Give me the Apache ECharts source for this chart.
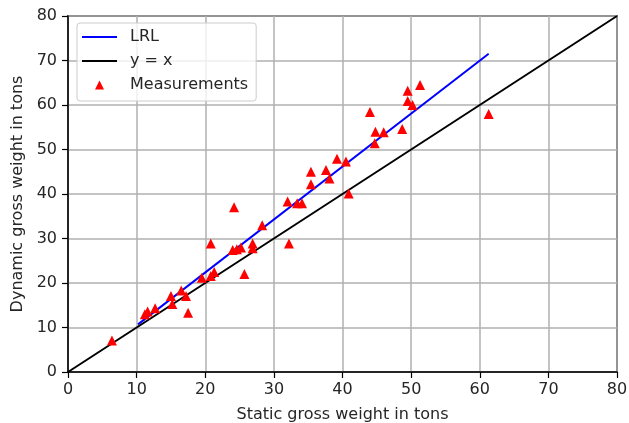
<!DOCTYPE html>
<html><head><meta charset="utf-8">
<script src="https://cdn.jsdelivr.net/npm/echarts@6/dist/echarts.min.js"></script>
<style>html,body{margin:0;padding:0;background:#fff}#c{width:629px;height:423px}</style>
</head><body><div id="c"></div>
<script>
const staticWeight = [6.4,11.2,11.6,12.7,15.0,15.2,16.5,17.2,17.5,19.5,20.8,21.3,20.8,24.2,24.0,24.6,25.2,25.7,26.9,26.9,28.3,32.2,32.0,33.4,34.1,35.4,35.4,37.6,38.1,39.2,40.5,40.9,44.0,44.7,44.8,46.0,48.7,49.5,49.5,50.2,51.3,61.3];
const dynamicWeight = [7.1,13.0,13.6,14.3,17.1,15.3,18.3,17.1,13.3,21.2,21.6,22.5,28.9,37.0,27.4,27.6,28.0,22.0,28.9,27.8,33.0,28.9,38.3,37.9,37.9,42.2,45.0,45.4,43.5,47.9,47.3,40.1,58.4,51.4,54.0,53.9,54.6,63.2,60.9,60.0,64.5,58.0];
const lrlX = [10.2, 61.3];
const lrlY = [10.7, 71.5];
const identX = [0, 80];
const identY = [0, 80];
const xTicks = [0,10,20,30,40,50,60,70,80];
const yTicks = [0,10,20,30,40,50,60,70,80];

const font = 'DejaVu Sans';
const lineIcon = 'path://M0,4 L35,4 L35,6 L0,6 Z M0,0 M43,10';
const triIcon = 'path://M17.5,0.5 L22,9.5 L13,9.5 Z M0,0 M43,10';
const chart = echarts.init(document.getElementById('c'));
const zip = (a,b) => a.map((v,i)=>[v,b[i]]);
const axisCommon = {
  axisLine:{show:true,lineStyle:{color:'#000',width:1.5}},
  axisTick:{show:true,inside:false,length:6,lineStyle:{color:'#000',width:1.2}},
  splitLine:{show:true,lineStyle:{color:'#b0b0b0',width:1.5}},
  nameTextStyle:{fontFamily:font,fontSize:16,color:'#262626'},
  nameLocation:'middle'
};
chart.setOption({
  animation:false,
  textStyle:{fontFamily:font},
  grid:{left:68,right:12,top:16,bottom:51,containLabel:false,outerBoundsMode:'none',show:true,borderColor:'#000',borderWidth:1.5,backgroundColor:'transparent'},
  legend:{
    left:77,top:23,orient:'vertical',itemWidth:43,itemHeight:10,itemGap:8,
    backgroundColor:'rgba(255,255,255,0.8)',borderColor:'#cccccc',borderWidth:1,borderRadius:3,
    padding:[6,8,8,5],
    textStyle:{fontFamily:font,fontSize:16,color:'#262626',lineHeight:16},
    data:[{name:'LRL',icon:lineIcon},{name:'y = x',icon:lineIcon},{name:'Measurements',icon:triIcon}]
  },
  xAxis:Object.assign({type:'value',min:xTicks[0],max:xTicks[xTicks.length-1],interval:10,
    name:'Static gross weight in tons',nameGap:35,
    axisLabel:{fontFamily:font,fontSize:16,color:'#262626',margin:10}}, axisCommon),
  yAxis:Object.assign({type:'value',min:yTicks[0],max:yTicks[yTicks.length-1],interval:10,
    name:'Dynamic gross weight in tons',nameGap:40,
    axisLabel:{fontFamily:font,fontSize:16,color:'#262626',margin:11}}, axisCommon),
  series:[
    {name:'LRL',type:'line',data:zip(lrlX,lrlY),symbol:'none',showSymbol:false,lineStyle:{color:'#0000ff',width:2},itemStyle:{color:'#0000ff'},z:3},
    {name:'y = x',type:'line',data:zip(identX,identY),symbol:'none',showSymbol:false,lineStyle:{color:'#000',width:2},itemStyle:{color:'#000'},z:4},
    {name:'Measurements',type:'scatter',data:zip(staticWeight,dynamicWeight),symbol:'triangle',symbolSize:[10,10],itemStyle:{color:'#ff0000',opacity:1},z:5}
  ]
});
</script></body></html>
